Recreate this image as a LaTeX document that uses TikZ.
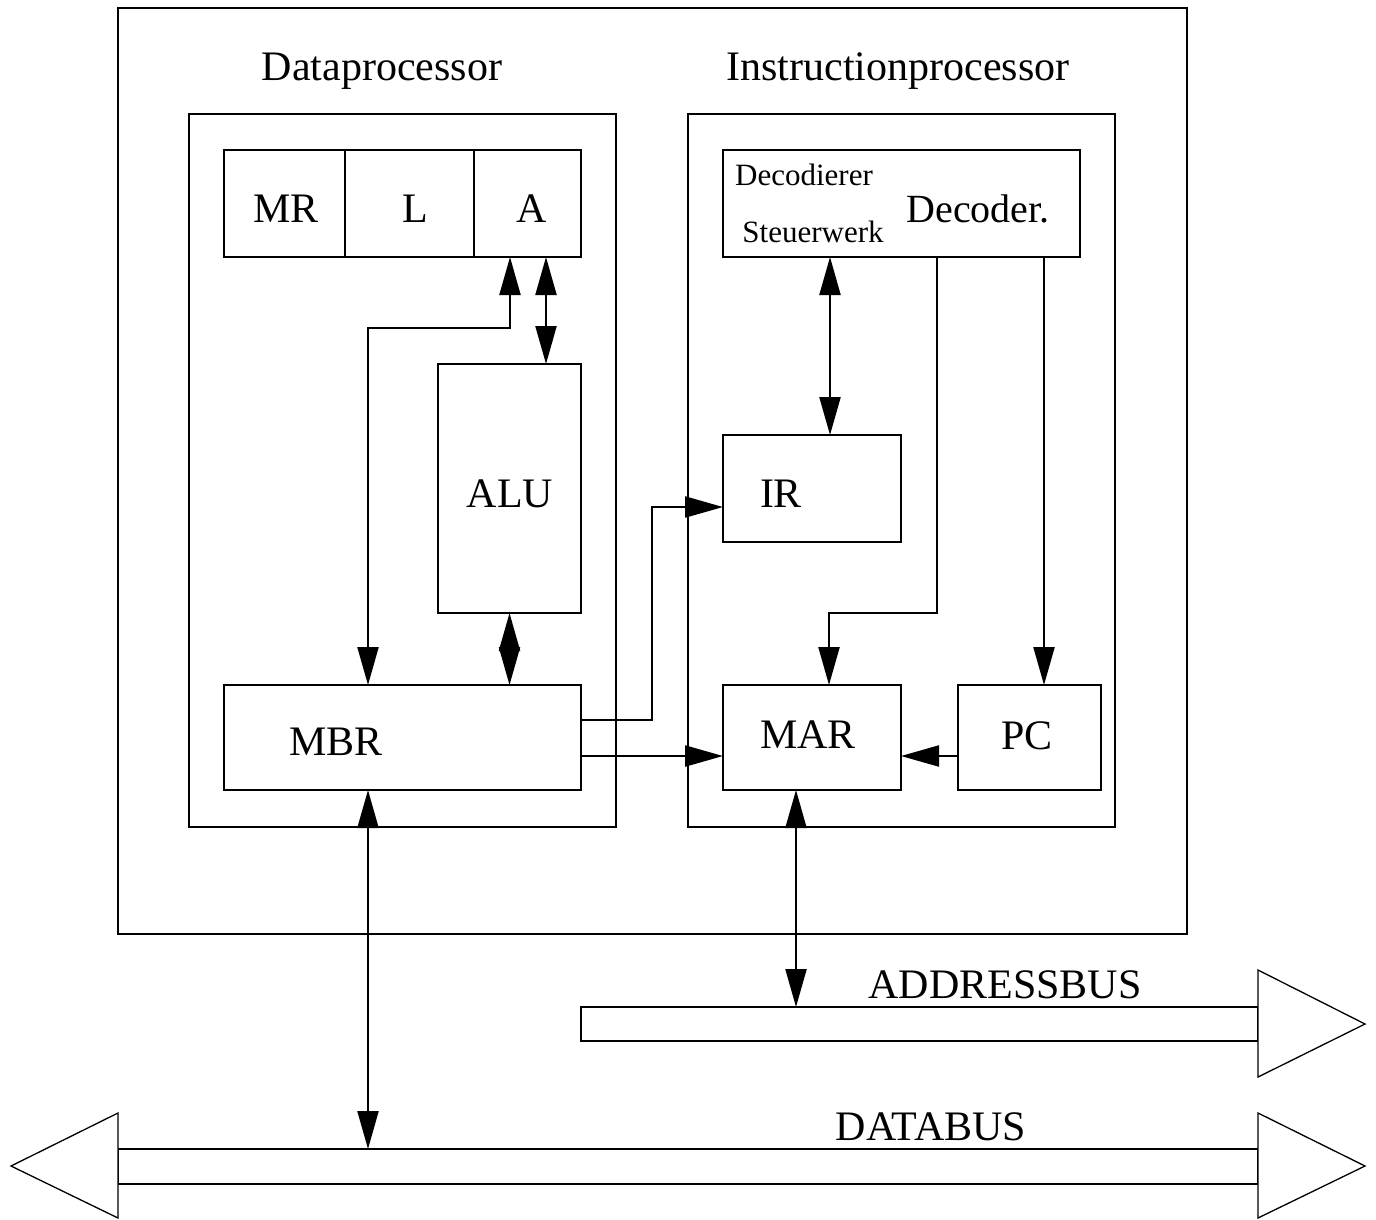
\documentclass[tikz,border=0pt]{standalone}
\usepackage{fontspec}
\setmainfont{Liberation Serif}
\usetikzlibrary{arrows.meta,calc}
\begin{document}
\begin{tikzpicture}[x=1pt,y=-1pt,
  box/.style={draw,line width=1.3pt,inner sep=0pt,outer sep=0pt},
  big/.style={font=\fontsize{42}{50}\selectfont,inner sep=0pt,anchor=base},
  mid/.style={font=\fontsize{40}{48}\selectfont,inner sep=0pt,anchor=base},
  small/.style={font=\fontsize{31}{37}\selectfont,inner sep=0pt,anchor=base},
  conn/.style={line width=2.2pt},
  one/.style={conn,-{Triangle[length=38pt,width=21pt]}},
  two/.style={conn,{Triangle[length=38pt,width=21pt]}-{Triangle[length=38pt,width=21pt]}},
  bus/.style={draw,line width=1.3pt,fill=white}]
\useasboundingbox (0,0) rectangle (1376,1219);
% frames
\node[box,minimum width=1069pt,minimum height=926pt] (cpu) at (652.5,471) {};
\node[box,minimum width=427pt,minimum height=713pt] (dp) at (402.5,470.5) {};
\node[box,minimum width=427pt,minimum height=713pt] (ip) at (901.5,470.5) {};
\node[big] (tdp) at (382,80) {Dataprocessor};
\node[big] (tip) at (898,80) {Instructionprocessor};
% register row
\node[box,minimum width=121pt,minimum height=107pt] (MR) at (284.5,203.5) {};
\node[box,minimum width=129pt,minimum height=107pt] (L) at (409.5,203.5) {};
\node[box,minimum width=107pt,minimum height=107pt] (A) at (527.5,203.5) {};
\node[big] (tMR) at (286,222) {MR};
\node[big] (tL) at (415,222) {L};
\node[big] (tA) at (532,222) {A};
% ALU, MBR
\node[box,minimum width=143pt,minimum height=249pt] (ALU) at (509.5,488.5) {};
\node[big] (tALU) at (510,507) {ALU};
\node[box,minimum width=357pt,minimum height=105pt] (MBR) at (402.5,737.5) {};
\node[big] (tMBR) at (336,755) {MBR};
% decoder
\node[box,minimum width=357pt,minimum height=107pt] (dec) at (901.5,203.5) {};
\node[small] (tdec1) at (804,185) {Decodierer};
\node[small] (tdec2) at (813,242) {Steuerwerk};
\node[mid] (tdec3) at (978,222) {Decoder.};
% IR, MAR, PC
\node[box,minimum width=178pt,minimum height=107pt] (IR) at (812,488.5) {};
\node[big] (tIR) at (781,507) {IR};
\node[box,minimum width=178pt,minimum height=105pt] (MAR) at (812,737.5) {};
\node[big] (tMAR) at (808,748) {MAR};
\node[box,minimum width=143pt,minimum height=105pt] (PC) at (1029.5,737.5) {};
\node[big] (tPC) at (1027,749) {PC};
% buses
\node[box,minimum width=677pt,minimum height=34pt] (abus) at (919.5,1024) {};
\draw[bus] (1258,970) -- (1365,1024) -- (1258,1077) -- cycle;
\node[big] (tabus) at (1005,998) {ADDRESSBUS};
\node[box,minimum width=1140pt,minimum height=35pt] (dbus) at (688,1166.5) {};
\draw[bus] (1258,1113) -- (1365,1166) -- (1258,1218) -- cycle;
\draw[bus] (118,1113) -- (11,1166) -- (118,1218) -- cycle;
\node[big] (tdbus) at (931,1140) {DATABUS};
% connectors
\draw[two] ($(MBR.north west)+(144,0)$) -- ++(0,-357) -| ($(A.south west)+(36,0)$);
\draw[two] ($(A.south west)+(72,0)$) coordinate (c2) -- (c2 |- ALU.north);
\draw[two] (ALU.south) -- (ALU.south |- MBR.north);
\draw[one] ($(MBR.north east)+(0,35)$) -- ++(71,0) |- ($(IR.north west)+(0,72)$);
\draw[one] ($(MBR.north east)+(0,71)$) coordinate (c5) -- (c5 -| MAR.west);
\draw[one] ($(PC.north west)+(0,71)$) coordinate (c6) -- (c6 -| MAR.east);
\draw[two] ($(dec.south west)+(107,0)$) coordinate (c7) -- (c7 |- IR.north);
\draw[one] ($(dec.south west)+(214,0)$) -- ++(0,356) -| ($(MAR.north west)+(106,0)$);
\draw[one] ($(dec.south west)+(321,0)$) coordinate (c9) -- (c9 |- PC.north);
\draw[two] ($(MBR.south west)+(144,0)$) coordinate (c10) -- (c10 |- dbus.north);
\draw[two] ($(MAR.south west)+(73,0)$) coordinate (c11) -- (c11 |- abus.north);
\end{tikzpicture}
\end{document}
